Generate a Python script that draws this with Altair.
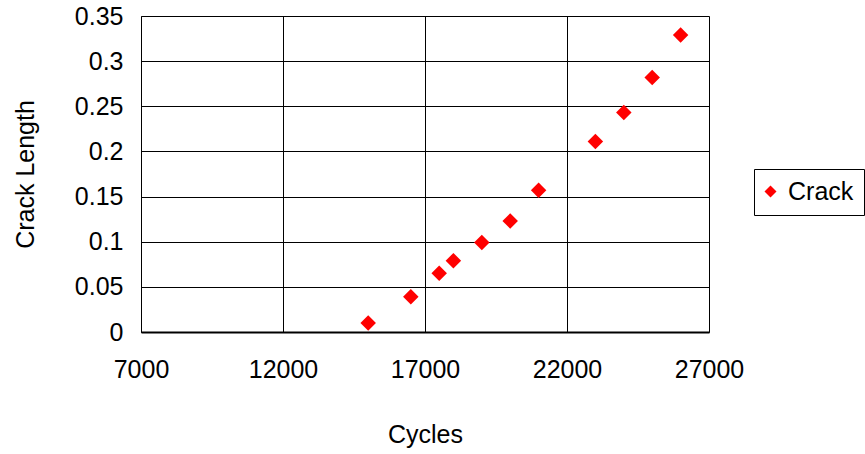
import altair as alt
import pandas as pd

# Crack growth measurements
cycles = [15000, 16500, 17500, 18000, 19000, 20000, 21000, 23000, 24000, 25000, 26000]
crack_length = [0.010, 0.039, 0.065, 0.079, 0.099, 0.123, 0.157, 0.211, 0.243, 0.282, 0.329]
series = ["Crack"] * len(cycles)

x_ticks = [7000, 12000, 17000, 22000, 27000]
y_ticks = [0, 0.05, 0.1, 0.15, 0.2, 0.25, 0.3, 0.35]

df = pd.DataFrame({"Cycles": cycles, "Crack Length": crack_length, "Series": series})

FONT = "Liberation Sans"

chart = (
    alt.Chart(df)
    .mark_point(filled=True, shape="diamond", size=240, opacity=1)
    .encode(
        x=alt.X(
            "Cycles:Q",
            scale=alt.Scale(domain=[7000, 27000], nice=False, zero=False),
            axis=alt.Axis(
                values=x_ticks,
                format="d",
                title="Cycles",
                grid=True,
                gridColor="#000000",
                gridWidth=1,
                domainColor="#000000",
                domainWidth=2,
                ticks=False,
                labelPadding=25,
                labelFontSize=25,
                labelFont=FONT,
                labelColor="#000000",
                labelBaseline="top",
                titleFont=FONT,
                titleFontSize=25,
                titleFontWeight="normal",
                titleColor="#000000",
                titleBaseline="alphabetic",
                titleY=110,
                labelFlush=False,
            ),
        ),
        y=alt.Y(
            "Crack Length:Q",
            scale=alt.Scale(domain=[0, 0.35], nice=False),
            axis=alt.Axis(
                values=y_ticks,
                format=".2~f",
                title="Crack Length",
                grid=True,
                gridColor="#000000",
                gridWidth=1,
                domainColor="#000000",
                domainWidth=1,
                ticks=False,
                labelPadding=18,
                labelFontSize=25,
                labelFont=FONT,
                labelColor="#000000",
                labelFlush=False,
                titleFont=FONT,
                titleFontSize=25,
                titleFontWeight="normal",
                titleColor="#000000",
                titleAngle=270,
                titleAlign="center",
                titleBaseline="alphabetic",
                titleX=-108,
                titleY=158,
            ),
        ),
        color=alt.Color(
            "Series:N",
            scale=alt.Scale(range=["#ff0000"]),
            legend=alt.Legend(
                title=None,
                orient="none",
                legendX=613,
                legendY=153,
                symbolType="diamond",
                symbolSize=144,
                symbolStrokeWidth=0,
                symbolOpacity=1,
                symbolOffset=-6,
                labelFont=FONT,
                labelFontSize=25,
                labelColor="#000000",
                labelOffset=5,
                labelBaseline="middle",
                labelLimit=200,
                padding=10,
                strokeColor="#000000",
                fillColor="#ffffff",
            ),
        ),
    )
    .properties(
        width=568,
        height=316,
        autosize=alt.AutoSizeParams(type="none"),
        padding={"left": 141, "top": 16, "right": 156, "bottom": 122},
    )
    .configure_view(stroke="#000000", strokeWidth=1)
    .configure(background="#ffffff")
)

chart.save("out.html", embed_options={"renderer": "svg", "actions": False})
